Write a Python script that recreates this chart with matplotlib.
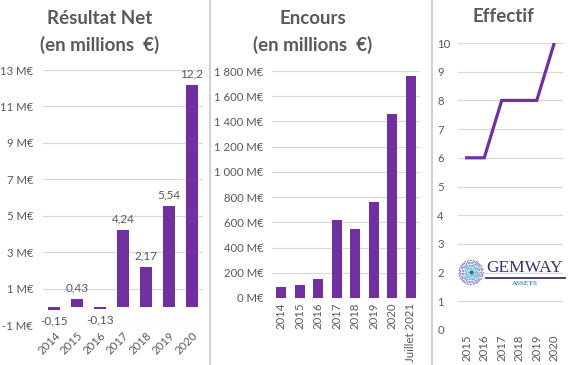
import numpy as np
import matplotlib
matplotlib.use("Agg")
import matplotlib.pyplot as plt
from matplotlib.lines import Line2D

plt.rcParams['font.family'] = ['Lato', 'DejaVu Sans']

# --- data ---
net_years = ['2014', '2015', '2016', '2017', '2018', '2019', '2020']
net_values = [-0.15, 0.43, -0.13, 4.24, 2.17, 5.54, 12.2]

aum_years = ['2014', '2015', '2016', '2017', '2018', '2019', '2020', 'Juillet 2021']
aum_values = [87, 100, 148, 615, 549, 765, 1460, 1760]

staff_years = ['2015', '2016', '2017', '2018', '2019', '2020']
staff_values = [6, 6, 8, 8, 8, 10]

PURPLE = '#7030A0'
GRAY_TXT = '#595959'
GRID = '#d9d9d9'
W, H = 568, 365


def px_axes(fig, x0, y0, x1, y1):
    """Axes from pixel box (top-left origin)."""
    return fig.add_axes([x0 / W, 1 - y1 / H, (x1 - x0) / W, (y1 - y0) / H])


def style(ax):
    for s in ax.spines.values():
        s.set_visible(False)
    ax.tick_params(length=0, colors=GRAY_TXT, labelsize=8.2)
    ax.yaxis.grid(True, color=GRID, linewidth=0.9)
    ax.set_axisbelow(True)


fig = plt.figure(figsize=(W / 100, H / 100), dpi=100)

# Résultat net
ax1 = px_axes(fig, 43, 70, 203, 325)
style(ax1)
x1 = np.arange(len(net_years))
ax1.bar(x1, net_values, width=0.52, color=PURPLE)
ax1.set_ylim(-1, 13)
ax1.set_xlim(-0.5, len(net_years) - 0.5)
ax1.set_yticks(np.arange(-1, 14, 2))
ax1.set_yticklabels([f"{v} M€" for v in range(-1, 14, 2)])
ax1.set_xticks(x1)
ax1.set_xticklabels(net_years, rotation=45, ha='right', rotation_mode='anchor')
ax1.tick_params(axis='y', pad=7)
for xi, v in zip(x1, net_values):
    lab = f"{v:g}".replace('.', ',')
    if v >= 0:
        ax1.annotate(lab, (xi, v), xytext=(0, 4), textcoords='offset points',
                     ha='center', va='bottom', fontsize=8.5, color=GRAY_TXT)
    else:
        ax1.annotate(lab, (xi, v), xytext=(0, -4), textcoords='offset points',
                     ha='center', va='top', fontsize=8.5, color=GRAY_TXT)

# Encours
ax2 = px_axes(fig, 272, 71, 420, 298)
style(ax2)
x2 = np.arange(len(aum_years))
ax2.bar(x2, aum_values, width=0.52, color=PURPLE)
ax2.set_ylim(0, 1800)
ax2.set_xlim(-0.5, len(aum_years) - 0.5)
ticks2 = np.arange(0, 1801, 200)
ax2.set_yticks(ticks2)
ax2.set_yticklabels([f"{t:,}".replace(',', ' ') + " M€" for t in ticks2])
ax2.set_xticks(x2)
ax2.set_xticklabels(aum_years, rotation=90)
ax2.tick_params(axis='y', pad=6)

# Effectif
ax3 = px_axes(fig, 458, 43, 563, 330)
style(ax3)
x3 = np.arange(len(staff_years))
ax3.plot(x3, staff_values, color=PURPLE, linewidth=2.3, solid_joinstyle='miter')
ax3.set_ylim(0, 10)
ax3.set_xlim(-0.5, len(staff_years) - 0.5)
ax3.set_yticks(range(0, 11))
ax3.set_xticks(x3)
ax3.set_xticklabels(staff_years, rotation=90)
ax3.tick_params(axis='y', pad=15)
for lab in ax3.get_yticklabels():
    lab.set_horizontalalignment('left')

# titles
tkw = dict(ha='center', va='center', fontsize=13.5, fontweight='bold', color=GRAY_TXT)
fig.text(100 / W, 1 - 18 / H, "Résultat Net", **tkw)
fig.text(100 / W, 1 - 45 / H, "(en millions  €)", **tkw)
fig.text(313 / W, 1 - 18 / H, "Encours", **tkw)
fig.text(313 / W, 1 - 45 / H, "(en millions  €)", **tkw)
fig.text(503 / W, 1 - 16 / H, "Effectif", **tkw)

# panel separators
for xs in (209.5, 431.5):
    fig.add_artist(Line2D([xs / W, xs / W], [0, 1], transform=fig.transFigure,
                          color='#d0d0d0', linewidth=1.4))

# logo
lg = px_axes(fig, 452, 255, 568, 292)
lg.set_xlim(452, 568)
lg.set_ylim(292, 255)
lg.axis('off')
cx, cy = 470.5, 272
for r in np.arange(3.0, 13.5, 1.5):
    n = int(2 * np.pi * r / 1.5)
    ang = np.linspace(0, 2 * np.pi, n, endpoint=False)
    t = (r - 3) / 10.5
    col = (0.35 + 0.35 * t, 0.80 - 0.25 * t, 0.85 - 0.05 * t)
    lg.scatter(cx + r * np.cos(ang), cy + r * np.sin(ang), s=1.2, color=col,
               linewidths=0)
lg.scatter([cx], [cy], s=9, color='#3a5ea8', linewidths=0)
lg.text(525, 267.5, "GEMWAY", ha='center', va='center', fontsize=12.5,
        family='Liberation Serif', color='#3d2f6e')
lg.plot([486, 565], [277.5, 277.5], color='#3d2f6e', linewidth=1.3)
lg.text(525, 283.5, "ASSETS", ha='center', va='center', fontsize=5,
        family='Liberation Serif', fontweight='bold', color='#3a8fa0')

fig.savefig('out.png', dpi=100)
